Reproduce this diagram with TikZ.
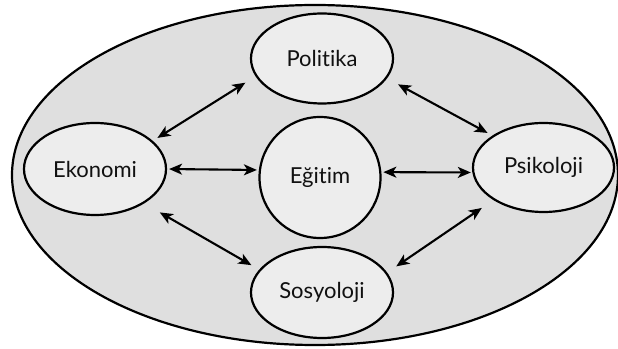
\documentclass[tikz,border=0pt]{standalone}
\usepackage{fontspec}
\setmainfont[Ligatures=NoCommon]{Lato}
\usepackage{tikz}
\usetikzlibrary{arrows.meta,shapes.geometric}
\definecolor{outerfill}{HTML}{DFDFDF}
\definecolor{innerfill}{HTML}{EDEDED}
\definecolor{ink}{HTML}{111111}

\begin{document}
\begin{tikzpicture}[x=1pt, y=1pt,
        outerbox/.style={ellipse, draw=black, fill=outerfill, line
        width=2.2pt, inner sep=0pt, minimum width=606, minimum height=340},
        fieldnode/.style={ellipse, draw=black, fill=innerfill, line
        width=2.2pt, inner sep=0pt, minimum width=142, minimum height=90,
        text=ink, font=\fontsize{22}{26}\selectfont},
        link/.style={{Stealth[length=13pt,width=11pt,inset=3.5pt]}-{Stealth[length=13pt,width=11pt,inset=3.5pt]},
        line width=2.1pt, black},
      ]
      \useasboundingbox (0,0) rectangle (618,348);
      % outer field
      \node[outerbox] (field) at (315,173) {};

      % the five fields
      \node[fieldnode] (pol) at (322,289.5) {Politika};
      \node[fieldnode, minimum width=121, minimum height=121] (eg) at (320,170.5) {Eğitim};
      \node[fieldnode, minimum height=91] (sos) at (322,55.5) {Sosyoloji};
      \node[fieldnode, minimum height=92] (eko) at (95,179) {Ekonomi};
      \node[fieldnode, minimum width=141, minimum height=89] (psi) at (543.5,180.5) {Psikoloji};

      % links
      \draw[link, shorten <=5.5pt, shorten >=12pt] (eko.26) -- (pol.195);
      \draw[link, shorten <=2pt, shorten >=2pt] (eko.east) -- (eg.173);
      \draw[link, shorten <=2pt, shorten >=1.5pt] (eg.5) -- (psi.184);
      \draw[link, shorten <=18pt, shorten >=9pt] (eko.-35) -- (sos.160);
      \draw[link, shorten <=12.5pt, shorten >=5.5pt] (pol.-17) -- (psi.148);
      \draw[link, shorten <=14pt, shorten >=11pt] (psi.213) -- (sos.17);
    \end{tikzpicture}
\end{document}
